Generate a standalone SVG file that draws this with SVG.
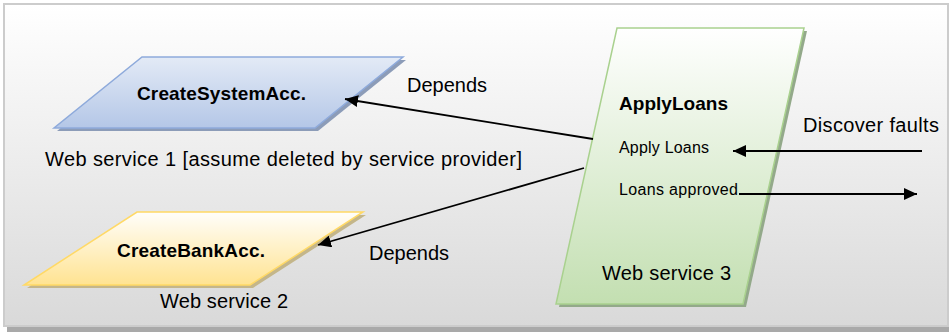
<svg xmlns="http://www.w3.org/2000/svg" width="949" height="332" viewBox="0 0 949 332">
  <defs>
    <linearGradient id="bg" x1="0" y1="0" x2="0" y2="1">
      <stop offset="0" stop-color="#ffffff"/>
      <stop offset="1" stop-color="#d9d9d9"/>
    </linearGradient>
    <linearGradient id="blueFill" x1="0" y1="0" x2="0" y2="1">
      <stop offset="0" stop-color="#e3eaf6"/>
      <stop offset="1" stop-color="#b4c7e7"/>
    </linearGradient>
    <linearGradient id="yellowFill" x1="0" y1="0" x2="0" y2="1">
      <stop offset="0" stop-color="#fffefb"/>
      <stop offset="1" stop-color="#ffe391"/>
    </linearGradient>
    <linearGradient id="greenFill" x1="0" y1="0" x2="0" y2="1">
      <stop offset="0" stop-color="#ffffff"/>
      <stop offset="1" stop-color="#c3dfb1"/>
    </linearGradient>
    <marker id="arrow" markerUnits="userSpaceOnUse" markerWidth="14" markerHeight="12" refX="13" refY="6" orient="auto">
      <path d="M0,0 L13,6 L0,12 Z" fill="#000"/>
    </marker>
    <style>
      .t { font-family: "Liberation Sans", Arial, sans-serif; fill: #000; }
      .b { font-weight: bold; }
      .conn { stroke: #000; stroke-width: 1.8; fill: none; marker-end: url(#arrow); }
    </style>
  </defs>

  <!-- canvas frame with drop shadow -->
  <rect x="7" y="7" width="942" height="325" fill="#a9a9a9"/>
  <rect x="4" y="4" width="944" height="322" fill="url(#bg)" stroke="#cccccc" stroke-width="2"/>

  <!-- Web service 1 -->
  <g id="createSystemAcc">
    <polygon points="145,60 406,60 318,131 57,131" fill="#8c9cb8"/>
    <polygon points="142,57 403,57 315,128 54,128" fill="url(#blueFill)" stroke="#8eaadb" stroke-width="1.5"/>
    <text class="t b" x="137" y="100" font-size="19" textLength="169">CreateSystemAcc.</text>
    <text class="t" x="45" y="166" font-size="20" textLength="477">Web service 1 [assume deleted by service provider]</text>
  </g>

  <!-- Web service 2 -->
  <g id="createBankAcc">
    <polygon points="140,215 366,215 253,288 27,288" fill="#c4b68a"/>
    <polygon points="137,212 363,212 250,285 24,285" fill="url(#yellowFill)" stroke="#ffd966" stroke-width="1.5"/>
    <text class="t b" x="117" y="257" font-size="19" textLength="148">CreateBankAcc.</text>
    <text class="t" x="160" y="308" font-size="20" textLength="128">Web service 2</text>
  </g>

  <!-- Web service 3 -->
  <g id="applyLoans">
    <polygon points="620,31 807,31 746,307 559,307" fill="#93a98a"/>
    <polygon points="617,28 804,28 743,304 556,304" fill="url(#greenFill)" stroke="#a9d18e" stroke-width="1.5"/>
    <text class="t b" x="619" y="110" font-size="19" textLength="109">ApplyLoans</text>
    <text class="t" x="619" y="153" font-size="16" textLength="90">Apply Loans</text>
    <text class="t" x="619" y="195" font-size="16" textLength="119">Loans approved</text>
    <text class="t" x="602" y="280" font-size="20" textLength="129">Web service 3</text>
  </g>

  <!-- connectors -->
  <g id="connectors">
    <line class="conn" x1="593" y1="139" x2="345" y2="99"/>
    <line class="conn" x1="584" y1="168" x2="318" y2="245"/>
    <line class="conn" x1="922" y1="151" x2="733" y2="151"/>
    <line class="conn" x1="739" y1="194" x2="917" y2="194"/>
    <text class="t" x="407" y="92" font-size="20" textLength="80">Depends</text>
    <text class="t" x="369" y="260" font-size="20" textLength="80">Depends</text>
    <text class="t" x="803" y="132" font-size="20" textLength="136">Discover faults</text>
  </g>
</svg>
